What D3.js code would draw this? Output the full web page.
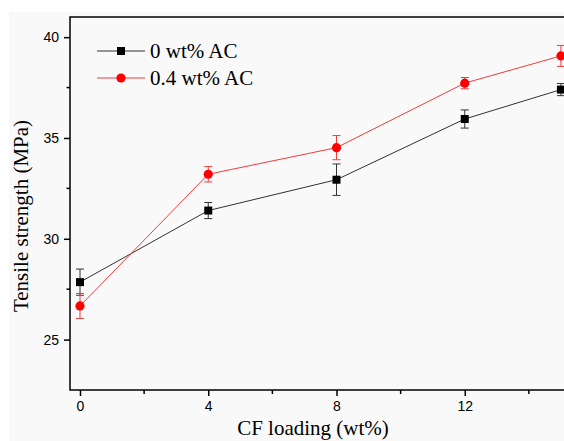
<!DOCTYPE html>
<html>
<head>
<meta charset="utf-8">
<script src="https://cdn.jsdelivr.net/npm/d3@7"></script>
<style>
  body { margin: 0; background: #fff; }
  svg { display: block; }
</style>
</head>
<body>
<div id="chart"></div>
<script>
// data
var cfLoading = [0, 4, 8, 12, 15];
var strength0 = [27.85, 31.4, 32.93, 35.94, 37.4];
var err0 = [0.65, 0.4, 0.78, 0.45, 0.3];
var strength04 = [26.67, 33.2, 34.52, 37.72, 39.07];
var err04 = [0.62, 0.38, 0.6, 0.28, 0.52];
var seriesNames = ["0 wt% AC", "0.4 wt% AC"];
var yMajor = [25, 30, 35, 40];
var yMinor = [27.5, 32.5, 37.5];
var xMajor = [0, 4, 8, 12];
var xMinor = [2, 6, 10, 14];

var W = 564, H = 441;
var plotLeft = 70, plotTop = 17, plotBottom = 390, plotRight = 610;

var svg = d3.select("#chart").append("svg")
    .attr("width", W)
    .attr("height", H);

// faint grey page the figure was pasted on
svg.append("rect")
    .attr("x", 9).attr("y", 12)
    .attr("width", W - 9).attr("height", H - 12)
    .attr("fill", "#f9f9f9");

var x = d3.scaleLinear().domain([0, 16]).range([80, 593]);
var y = d3.scaleLinear().domain([22.5, 41]).range([plotBottom, plotTop]);

var tickFont = "'Liberation Sans', Arial, sans-serif";
var titleFont = "'Liberation Serif', 'Times New Roman', serif";

// frame
svg.append("path")
    .attr("d", "M" + plotRight + "," + plotTop + "H" + plotLeft + "V" + plotBottom + "H" + plotRight)
    .attr("fill", "none")
    .attr("stroke", "#000")
    .attr("stroke-width", 1.5);

// y axis
var yAxis = svg.append("g")
    .attr("transform", "translate(" + plotLeft + ",0)")
    .call(d3.axisLeft(y).tickValues(yMajor).tickSize(6).tickPadding(5).tickFormat(d3.format("d")))
    .attr("font-family", tickFont)
    .attr("font-size", 14);
yAxis.select(".domain").remove();
yAxis.selectAll("line").attr("stroke", "#000").attr("stroke-width", 1.5);
yAxis.selectAll("text").attr("fill", "#000");

svg.append("g").selectAll("line")
    .data(yMinor)
    .enter().append("line")
    .attr("x1", plotLeft - 3.5).attr("x2", plotLeft)
    .attr("y1", function(d) { return y(d); })
    .attr("y2", function(d) { return y(d); })
    .attr("stroke", "#000").attr("stroke-width", 1.5);

// x axis
var xAxis = svg.append("g")
    .attr("transform", "translate(0," + plotBottom + ")")
    .call(d3.axisBottom(x).tickValues(xMajor).tickSize(6).tickPadding(5).tickFormat(d3.format("d")))
    .attr("font-family", tickFont)
    .attr("font-size", 14);
xAxis.select(".domain").remove();
xAxis.selectAll("line").attr("stroke", "#000").attr("stroke-width", 1.5);
xAxis.selectAll("text").attr("fill", "#000");

svg.append("g").selectAll("line")
    .data(xMinor)
    .enter().append("line")
    .attr("x1", function(d) { return x(d); })
    .attr("x2", function(d) { return x(d); })
    .attr("y1", plotBottom).attr("y2", plotBottom + 4)
    .attr("stroke", "#000").attr("stroke-width", 1.5);

// axis titles
svg.append("text")
    .text("Tensile strength (MPa)")
    .attr("transform", "translate(28,216) rotate(-90)")
    .attr("text-anchor", "middle")
    .style("font-family", titleFont)
    .style("font-size", "21px");

svg.append("text")
    .text("CF loading (wt%)")
    .attr("x", 313).attr("y", 435)
    .attr("text-anchor", "middle")
    .style("font-family", titleFont)
    .style("font-size", "21px");

// series
var series = [
    {name: seriesNames[0], vals: strength0, errs: err0, color: "#000", line: "#333", shape: "square"},
    {name: seriesNames[1], vals: strength04, errs: err04, color: "#ff0000", line: "#f03c3c", shape: "circle"}
];

var line = d3.line()
    .x(function(d) { return x(d.x); })
    .y(function(d) { return y(d.y); });

function drawMarker(g, shape, cx, cy, color) {
    if (shape == "square") {
        g.append("rect")
            .attr("x", cx - 4).attr("y", cy - 4)
            .attr("width", 8).attr("height", 8)
            .attr("fill", color);
    } else {
        g.append("circle")
            .attr("cx", cx).attr("cy", cy).attr("r", 4.6)
            .attr("fill", color);
    }
}

series.forEach(function(s) {
    var pts = cfLoading.map(function(c, i) { return {x: c, y: s.vals[i], e: s.errs[i]}; });
    var g = svg.append("g");

    g.append("path")
        .datum(pts)
        .attr("d", line)
        .attr("fill", "none")
        .attr("stroke", s.line)
        .attr("stroke-width", 1);

    // error bars
    pts.forEach(function(p) {
        var px = x(p.x), y1 = y(p.y + p.e), y2 = y(p.y - p.e);
        g.append("line")
            .attr("x1", px).attr("x2", px).attr("y1", y1).attr("y2", y2)
            .attr("stroke", s.line).attr("stroke-width", 1);
        [y1, y2].forEach(function(yy) {
            g.append("line")
                .attr("x1", px - 4).attr("x2", px + 4).attr("y1", yy).attr("y2", yy)
                .attr("stroke", s.line).attr("stroke-width", 1);
        });
    });

    pts.forEach(function(p) {
        drawMarker(g, s.shape, x(p.x), y(p.y), s.color);
    });
});

// legend
var legend = svg.append("g");
series.forEach(function(s, i) {
    var ly = 51 + i * 27;
    legend.append("line")
        .attr("x1", 97).attr("x2", 145).attr("y1", ly).attr("y2", ly)
        .attr("stroke", s.line).attr("stroke-width", 1);
    drawMarker(legend, s.shape, 121, ly, s.color);
    legend.append("text")
        .text(s.name)
        .attr("x", 150).attr("y", ly + 7)
        .style("font-family", titleFont)
        .style("font-size", "21px");
});
</script>
</body>
</html>
